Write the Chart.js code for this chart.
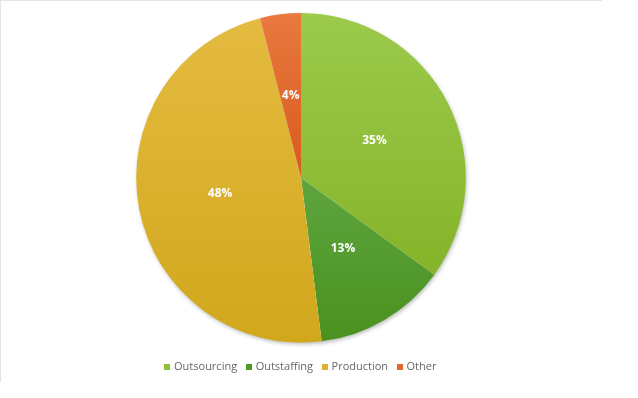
<!DOCTYPE html>
<html>
<head>
<meta charset="utf-8">
<script src="https://cdn.jsdelivr.net/npm/chart.js@4"></script>
<style>
  html, body { margin: 0; padding: 0; background: #ffffff; }
  #frame {
    position: absolute; left: 0; top: 0;
    width: 602px; height: 382px;
    border-top: 1px solid #dfe7ec;
    border-left: 1px solid #dfe7ec;
    box-sizing: border-box;
  }
  #wrap { position: absolute; left: 0; top: 0; width: 602px; height: 382px; }
</style>
</head>
<body>
<div id="frame"></div>
<div id="wrap"><canvas id="pieChart"></canvas></div>
<script>
// Chart data
const categories = ['Outsourcing', 'Outstaffing', 'Production', 'Other'];
const shares = [35, 13, 48, 4];

// top / bottom colours of each slice gradient
const topColors = ['#9cca4b', '#5ea540', '#e4bb40', '#e9793f'];
const bottomColors = ['#85b42a', '#4a911f', '#d1a71c', '#d85a1c'];
const legendColors = ['#8fc03a', '#4f9a27', '#dcb12c', '#e2672c'];

// small square used as legend marker
function makeSquare(color) {
    const c = document.createElement('canvas');
    c.width = 6;
    c.height = 6;
    const g = c.getContext('2d');
    g.fillStyle = color;
    g.fillRect(0, 0, 6, 6);
    return c;
}
const legendSquares = legendColors.map(makeSquare);

// vertical gradient per slice, fitted to the slice's own height
const sliceGradients = {
    id: 'sliceGradients',
    beforeDatasetsDraw(chart) {
        const meta = chart.getDatasetMeta(0);
        const ctx = chart.ctx;
        meta.data.forEach((arc, i) => {
            const { x, y, startAngle, endAngle, outerRadius } = arc;
            const ys = [y, y + Math.sin(startAngle) * outerRadius, y + Math.sin(endAngle) * outerRadius];
            const within = a => {
                while (a < startAngle) a += Math.PI * 2;
                return a <= endAngle;
            };
            if (within(-Math.PI / 2)) ys.push(y - outerRadius);
            if (within(Math.PI / 2)) ys.push(y + outerRadius);
            const y0 = Math.min(...ys), y1 = Math.max(...ys);
            const g = ctx.createLinearGradient(0, y0, 0, y1);
            g.addColorStop(0, topColors[i]);
            g.addColorStop(1, bottomColors[i]);
            arc.options.backgroundColor = g;
        });
    }
};

// soft shadow behind the pie
const pieShadow = {
    id: 'pieShadow',
    beforeDatasetsDraw(chart) {
        const arc = chart.getDatasetMeta(0).data[0];
        if (!arc) return;
        const ctx = chart.ctx;
        ctx.save();
        ctx.shadowColor = 'rgba(0,0,0,0.30)';
        ctx.shadowBlur = 4;
        ctx.shadowOffsetX = 1;
        ctx.shadowOffsetY = 2;
        ctx.fillStyle = '#ffffff';
        ctx.beginPath();
        ctx.arc(arc.x, arc.y, arc.outerRadius - 0.5, 0, Math.PI * 2);
        ctx.fill();
        ctx.restore();
    }
};

// percentage labels inside the slices
const sliceLabels = {
    id: 'sliceLabels',
    afterDatasetsDraw(chart) {
        const ctx = chart.ctx;
        const meta = chart.getDatasetMeta(0);
        ctx.save();
        ctx.fillStyle = '#ffffff';
        ctx.font = 'bold 12px "Open Sans"';
        ctx.textAlign = 'center';
        ctx.textBaseline = 'middle';
        meta.data.forEach((arc, i) => {
            const pos = arc.tooltipPosition();
            ctx.fillText(shares[i] + '%', pos.x, pos.y);
        });
        ctx.restore();
    }
};

const ctx = document.getElementById('pieChart').getContext('2d');
new Chart(ctx, {
    type: 'pie',
    data: {
        labels: categories,
        datasets: [{
            data: shares,
            backgroundColor: topColors,
            borderWidth: 0
        }]
    },
    options: {
        responsive: true,
        maintainAspectRatio: false,
        animation: false,
        layout: { padding: { top: 13, bottom: 0 } },
        plugins: {
            legend: {
                position: 'bottom',
                title: {
                    display: true,
                    text: ' ',
                    padding: 3,
                    font: { size: 2 }
                },
                labels: {
                    usePointStyle: true,
                    pointStyleWidth: 3,
                    boxHeight: 6,
                    padding: 10,
                    color: '#404040',
                    font: { family: '"Open Sans"', size: 11 },
                    generateLabels(chart) {
                        return categories.map((c, i) => ({
                            text: c,
                            pointStyle: legendSquares[i],
                            fillStyle: legendColors[i],
                            strokeStyle: legendColors[i],
                            lineWidth: 0,
                            index: i
                        }));
                    }
                }
            },
            tooltip: { enabled: false }
        }
    },
    plugins: [pieShadow, sliceGradients, sliceLabels]
});
</script>
</body>
</html>
